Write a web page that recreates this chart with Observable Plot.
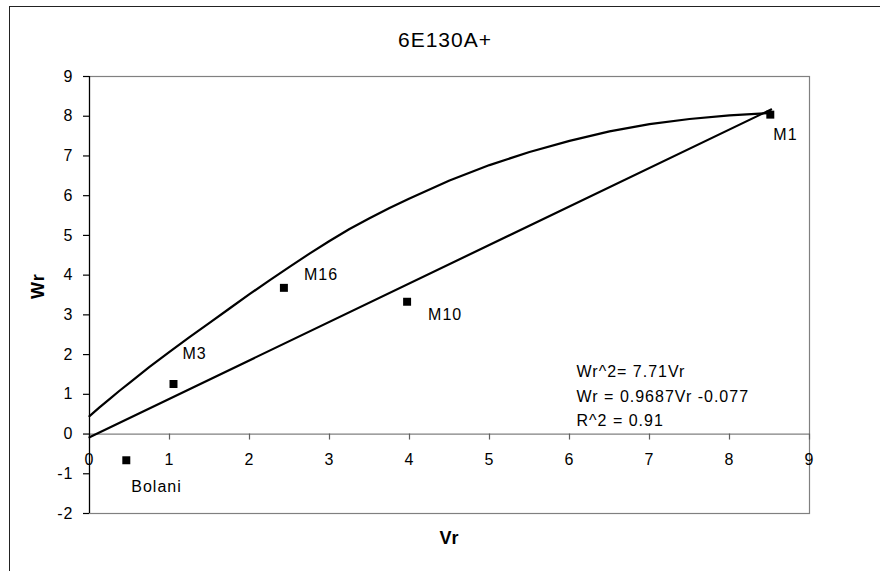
<!DOCTYPE html>
<html>
<head>
<meta charset="utf-8">
<script src="https://cdn.jsdelivr.net/npm/d3@7"></script>
<script src="https://cdn.jsdelivr.net/npm/@observablehq/plot@0.6"></script>
<style>
  html, body { margin: 0; padding: 0; background: #fff; }
  #wrap { position: relative; width: 880px; height: 571px; overflow: hidden; font-family: "Liberation Sans", Arial, sans-serif; }
  #border { position: absolute; left: 9px; top: 6px; width: 900px; height: 600px; border-left: 1.5px solid #222; border-top: 1.5px solid #222; }
  #title { position: absolute; left: 0; top: 28px; width: 890px; text-align: center; font-size: 21px; line-height: 24px; letter-spacing: 1px; color: #000; }
  #chart { position: absolute; left: 0; top: 0; }
  #chart svg text { letter-spacing: 1px; }
</style>
</head>
<body>
<div id="wrap">
  <div id="border"></div>
  <div id="title">6E130A+</div>
  <div id="chart"></div>
</div>
<script>
// Tick values
const xTicks = [0, 1, 2, 3, 4, 5, 6, 7, 8, 9];
const yTicks = [-2, -1, 0, 1, 2, 3, 4, 5, 6, 7, 8, 9];

// Observed samples
const names = ["M1", "M16", "M10", "M3", "Bolani"];
const vr = [8.51, 2.43, 3.97, 1.05, 0.46];
const wr = [8.04, 3.68, 3.33, 1.26, -0.66];

// Upper curve
const curveVr = [0, 0.125, 0.25, 0.375, 0.5, 0.75, 1, 1.25, 1.5, 1.75, 2, 2.25, 2.5, 2.75, 3, 3.25, 3.5, 3.75, 4, 4.5, 5, 5.5, 6, 6.5, 7, 7.5, 8, 8.5];
const curveWr = [0.45, 0.67, 0.88, 1.09, 1.29, 1.69, 2.07, 2.44, 2.80, 3.16, 3.52, 3.87, 4.21, 4.54, 4.86, 5.16, 5.43, 5.69, 5.93, 6.38, 6.77, 7.10, 7.38, 7.62, 7.80, 7.93, 8.02, 8.08];

// Regression line end points
const regVr = [0, 8.52];
const regWr = [-0.08, 8.17];

const eqText = ["Wr^2= 7.71Vr", "Wr = 0.9687Vr -0.077", "R^2 = 0.91"];

const points = names.map((n, i) => ({name: n, vr: vr[i], wr: wr[i]}));
const curve = curveVr.map((v, i) => ({vr: v, wr: curveWr[i]}));
const reg = regVr.map((v, i) => ({vr: v, wr: regWr[i]}));

function label(name, dx, dy) {
  return Plot.text(points.filter(d => d.name === name), {
    x: "vr", y: "wr", text: "name", dx, dy, textAnchor: "start", fontSize: 16, fill: "#000"
  });
}

const chart = Plot.plot({
  width: 880,
  height: 571,
  marginLeft: 89,
  marginRight: 71,
  marginTop: 76,
  marginBottom: 58,
  x: {domain: [0, 9], axis: null},
  y: {domain: [-2, 9], axis: null},
  style: {fontFamily: "'Liberation Sans', Arial, sans-serif", background: "transparent", color: "#000", overflow: "visible"},
  marks: [
    Plot.frame({stroke: "#808080", strokeWidth: 1.2}),
    Plot.ruleY([0], {stroke: "#808080", strokeWidth: 1.2}),
    // x ticks at y = 0
    Plot.ruleX(xTicks, {x: d => d, y1: 0, y2: 0, insetBottom: -6, stroke: "#606060", strokeWidth: 1.2}),
    Plot.text(xTicks, {x: d => d, y: 0, dy: 26, text: d => String(d), fontSize: 16, fill: "#000"}),
    // y axis
    Plot.ruleX([0], {stroke: "#000", strokeWidth: 1.2}),
    Plot.ruleY(yTicks, {y: d => d, x1: 0, x2: 0, insetLeft: -6, stroke: "#000", strokeWidth: 1.2}),
    Plot.text(yTicks, {x: 0, y: d => d, dx: -16, text: d => String(d), textAnchor: "end", fontSize: 16, fill: "#000"}),
    // axis titles
    Plot.text(["Vr"], {frameAnchor: "bottom", dy: 30, text: d => d, fontSize: 18, fontWeight: "bold", fill: "#000"}),
    Plot.text(["Wr"], {frameAnchor: "left", dx: -51, dy: 4, rotate: -90, text: d => d, fontSize: 18, fontWeight: "bold", fill: "#000"}),
    // lines
    Plot.line(curve, {x: "vr", y: "wr", stroke: "#000", strokeWidth: 2.2}),
    Plot.line(reg, {x: "vr", y: "wr", stroke: "#000", strokeWidth: 2.2}),
    // points
    Plot.dot(points, {x: "vr", y: "wr", symbol: "square", r: 4.5, fill: "#000", stroke: "none"}),
    label("M1", 3, 20),
    label("M16", 20, -13),
    label("M10", 21, 13),
    label("M3", 9, -30),
    label("Bolani", 5, 27),
    // equation block
    Plot.text([eqText.join("\n")], {frameAnchor: "left", dx: 487, dy: 99, text: d => d, textAnchor: "start", lineHeight: 1.53, fontSize: 16, fill: "#000"})
  ]
});
document.getElementById("chart").appendChild(chart);
</script>
</body>
</html>
